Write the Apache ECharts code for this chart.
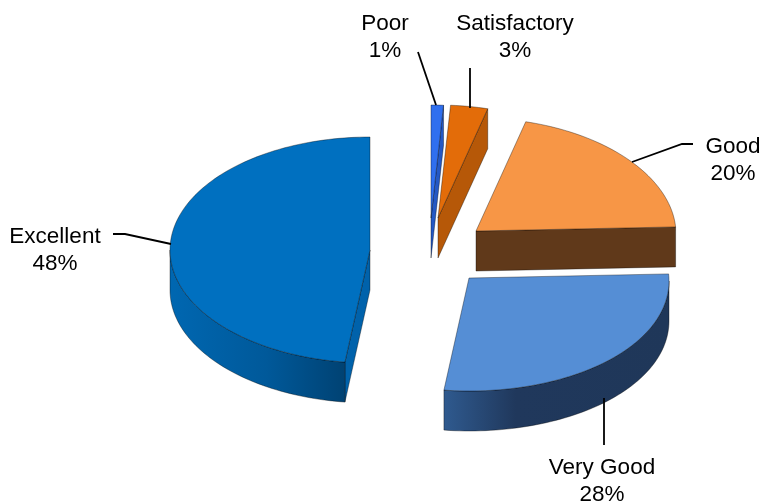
<!DOCTYPE html>
<html>
<head>
<meta charset="utf-8">
<style>html,body{margin:0;padding:0;background:#fff}#c{width:762px;height:504px}</style>
<script src="https://cdn.jsdelivr.net/npm/echarts@6/dist/echarts.min.js"></script>
</head>
<body>
<div id="c"></div>
<script>
// Data (clockwise from 12 o'clock)
const categories = ['Poor', 'Satisfactory', 'Good', 'Very Good', 'Excellent'];
const percents = [1, 3, 20, 28, 48];

// Drawing layout, separate from the data
const RX = 200, RY = 113, DEPTH = 40, SAG = 3;
const apexes = [[431, 218], [438, 218], [476, 231], [469, 278], [370, 250]];
const topFill = ['#2F6FEF', '#E36C09', '#F79646', '#558ED5', '#0070C0'];
const wallStops = [
  [[0, '#2458C4'], [1, '#2458C4']],
  [[0, '#B65808'], [1, '#B65808']],
  [[0, '#60391A'], [1, '#60391A']],
  [[0, '#2F5A8F'], [0.32, '#20385C'], [1, '#1F3759']],
  [[0, '#0067B1'], [0.55, '#00599A'], [1, '#004273']]
];
const cutFill = ['#2458C4', '#B65808', '#60391A', '#1F3759', '#0062AB'];
const labelPos = [[385, 37.5], [515, 37.5], [733, 160.5], [602, 481.5], [55, 250.5]];
const leaders = [
  [[418, 52], [436, 105]],
  [[470, 68], [470, 108]],
  [[693, 144], [682, 144], [632, 162]],
  [[604, 398], [604, 445]],
  [[113, 234], [125, 234], [171, 244]]
];
const FONT = '22.5px "Liberation Sans", Arial, sans-serif';
const EDGE = 'rgba(0,0,0,0.45)';

const total = percents.reduce((a, b) => a + b, 0);
function rim(c, deg) {
  const r = deg * Math.PI / 180;
  const s = Math.sin(r);
  return [c[0] + RX * s, c[1] - RY * Math.cos(r) + (s > 0 ? SAG * s * s : 0)];
}
function arc(c, a0, a1) {
  const pts = [];
  const n = Math.max(2, Math.ceil(Math.abs(a1 - a0) / 1.5));
  for (let i = 0; i <= n; i++) pts.push(rim(c, a0 + (a1 - a0) * i / n));
  return pts;
}
const down = p => [p[0], p[1] + DEPTH];

function renderItem(params, api) {
  const i = params.dataIndex;
  const value = api.value(1);
  let before = 0;
  for (let k = 0; k < i; k++) before += percents[k];
  const a0 = before / total * 360;
  const a1 = a0 + value / total * 360;
  const c = apexes[i];
  const kids = [];
  const poly = (points, fill) => kids.push({
    type: 'polygon', shape: { points },
    style: { fill, stroke: EDGE, lineWidth: 0.8, lineJoin: 'round' }
  });
  const gradient = new echarts.graphic.LinearGradient(0, 0, 1, 0,
    wallStops[i].map(s => ({ offset: s[0], color: s[1] })));
  // cut faces that look towards the viewer
  if (a1 < 180) {
    const e = rim(c, a1);
    poly([c, e, down(e), down(c)], cutFill[i]);
  }
  if (a0 > 180) {
    const e = rim(c, a0);
    poly([c, e, down(e), down(c)], cutFill[i]);
  }
  // outer wall of the lower half of the rim
  const w0 = Math.max(a0, 90), w1 = Math.min(a1, 270);
  if (w1 > w0) {
    const top = arc(c, w0, w1);
    poly(top.concat(top.map(down).reverse()), gradient);
  }
  // top face
  poly([c].concat(arc(c, a0, a1)), topFill[i]);
  // leader line and label
  kids.push({
    type: 'polyline', shape: { points: leaders[i] },
    style: { fill: null, stroke: '#000', lineWidth: 1.8 }
  });
  kids.push({
    type: 'text',
    style: {
      text: categories[i] + '\n' + value + '%',
      x: labelPos[i][0], y: labelPos[i][1],
      align: 'center', verticalAlign: 'middle',
      font: FONT, lineHeight: 27, fill: '#000'
    }
  });
  return { type: 'group', children: kids };
}

const chart = echarts.init(document.getElementById('c'), null, { renderer: 'canvas' });
chart.setOption({
  animation: false,
  backgroundColor: '#fff',
  series: [{
    type: 'custom',
    coordinateSystem: 'none',
    renderItem,
    data: categories.map((name, i) => ({ name, value: [i, percents[i]] }))
  }]
});
</script>
</body>
</html>
